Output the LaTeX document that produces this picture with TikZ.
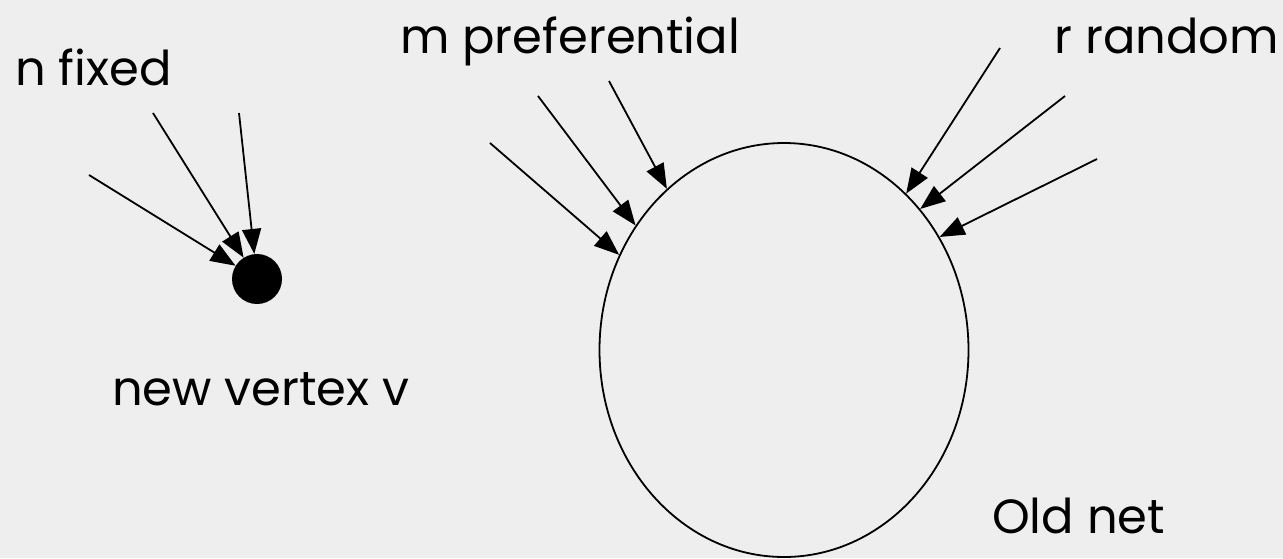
\documentclass[tikz,border=0pt]{standalone}
\usepackage{fontspec}
\setmainfont{Poppins}
\usetikzlibrary{shapes.geometric,arrows.meta}
\definecolor{bggray}{RGB}{238,238,238}
\tikzset{
  lbl/.style={anchor=base west,inner sep=0pt,font=\fontsize{48}{58}\selectfont},
  edge/.style={line width=1.8pt,-{Triangle[length=25pt,width=19pt]}},
}
\begin{document}
\begin{tikzpicture}[x=1pt,y=-1pt]
  \fill[bggray](0,0)rectangle(1283,558);
  \useasboundingbox(0,0)rectangle(1283,558);
  \node[lbl](nfix)at(15,85){n fixed};
  \node[lbl](mpref)at(400,53){m preferential};
  \node[lbl,anchor=base east](rrand)at(1279,53){r random};
  \node[lbl](newv)at(112,405){new vertex v};
  \node[lbl](oldnet)at(992,533){Old net};
  \node[circle,fill,inner sep=0pt,minimum size=50pt](v)at(257,279){};
  \node[ellipse,draw,line width=1.8pt,inner sep=0pt,minimum width=369pt,minimum height=414pt](net)at(784,350){};
  \coordinate(n1)at(89,175);
  \coordinate(n2)at(153,113);
  \coordinate(n3)at(239,113);
  \coordinate(m1)at(490,143);
  \coordinate(m2)at(538,96);
  \coordinate(m3)at(609,81);
  \coordinate(r1)at(1000,48);
  \coordinate(r2)at(1065,96);
  \coordinate(r3)at(1097,159);
  \draw[edge](n1)--(v);
  \draw[edge](n2)--(v);
  \draw[edge](n3)--(v);
  \draw[edge](m1)--(net.150);
  \draw[edge](m2)--(net.140);
  \draw[edge](m3)--(net.126);
  \draw[edge](r1)--(net.52);
  \draw[edge](r2)--(net.46);
  \draw[edge](r3)--(net.36);
\end{tikzpicture}
\end{document}
